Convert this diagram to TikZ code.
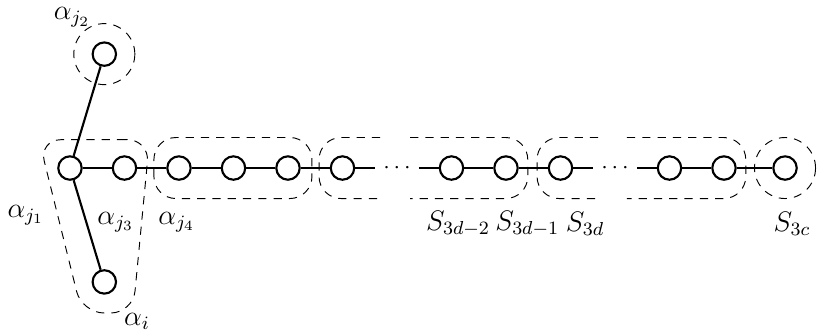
\documentclass[tikz,border=0pt]{standalone}
\usepackage{tikz}

\begin{document}
\begin{tikzpicture}[x=0.815cm, y=0.815cm,
        vert/.style={draw, circle, line width=0.9pt, minimum size=0.35cm, inner sep=0pt},
        lab/.style={font=\large, inner sep=0pt},
        part/.style={draw, dashed, thin},
    ]
        \useasboundingbox (-1.284,-3.064) rectangle (13.89,3.083);

        \node[vert] (j1) at (0, 0) {};
        \node[vert] (j2) at (0.63, 2.09) {};
        \node[vert] (ji) at (0.63, -2.09) {};
        \node[vert] (j3) at (1, 0) {};

        \node[vert] (v2) at (2, 0) {};
        \node[vert] (v3) at (3, 0) {};
        \node[vert] (v4) at (4, 0) {};
        \node[vert] (v5) at (5, 0) {};
        \node (dots1) at (6, 0) {$\cdots$};
        \node[vert] (v7) at (7, 0) {};
        \node[vert] (v8) at (8, 0) {};
        \node[vert] (v9) at (9, 0) {};
        \node (dots2) at (10, 0) {$\cdots$};
        \node[vert] (v11) at (11, 0) {};
        \node[vert] (v12) at (12, 0) {};
        \node[vert] (v13) at (13.12, 0) {};

        \node[lab] (lj2) at (0.04, 2.77) {$\alpha_{j_2}$};
        \node[lab] (lj1) at (-0.81, -0.86) {$\alpha_{j_1}$};
        \node[lab] (lj3) at (0.84, -0.99) {$\alpha_{j_3}$};
        \node[lab] (lj4) at (1.96, -0.99) {$\alpha_{j_4}$};
        \node[lab] (li) at (1.23, -2.81) {$\alpha_i$};
        \node[lab] (l7) at (7.12, -1.03) {$S_{3d-2}$};
        \node[lab] (l8) at (8.39, -1.03) {$S_{3d-1}$};
        \node[lab] (l9) at (9.45, -1.03) {$S_{3d}$};
        \node[lab] (l13) at (13.25, -1.03) {$S_{3c}$};

        \begin{scope}[line width=0.9pt]
            \draw (j1) -- (j2);
            \draw (j1) -- (ji);
            \draw (j1) -- (j3) -- (v2) -- (v3) -- (v4) -- (v5) -- (dots1) -- (v7);
            \draw (v7) -- (v8) -- (v9) -- (dots2) -- (v11) -- (v12) -- (v13);
        \end{scope}

        \begin{scope}[part, dash pattern=on 3.5pt off 3pt, rounded corners=0.33cm]
            \draw (j2) circle (0.56);
            \draw (0.5,0.52) -- (1.46,0.52) -- (1.155,-2.66) -- (0.22,-2.66) -- (-0.57,0.52) -- cycle;
            \draw (1.54,-0.56) rectangle (4.44,0.56);
            \draw (5.69,0.56) -- (4.57,0.56) -- (4.57,-0.56) -- (5.69,-0.56);
            \draw (6.24,0.56) -- (8.40,0.56) -- (8.40,-0.56) -- (6.24,-0.56);
            \draw (9.69,0.56) -- (8.57,0.56) -- (8.57,-0.56) -- (9.69,-0.56);
            \draw (10.22,0.56) -- (12.40,0.56) -- (12.40,-0.56) -- (10.22,-0.56);
            \draw (v13) circle (0.56);
        \end{scope}

    \end{tikzpicture}
\end{document}
